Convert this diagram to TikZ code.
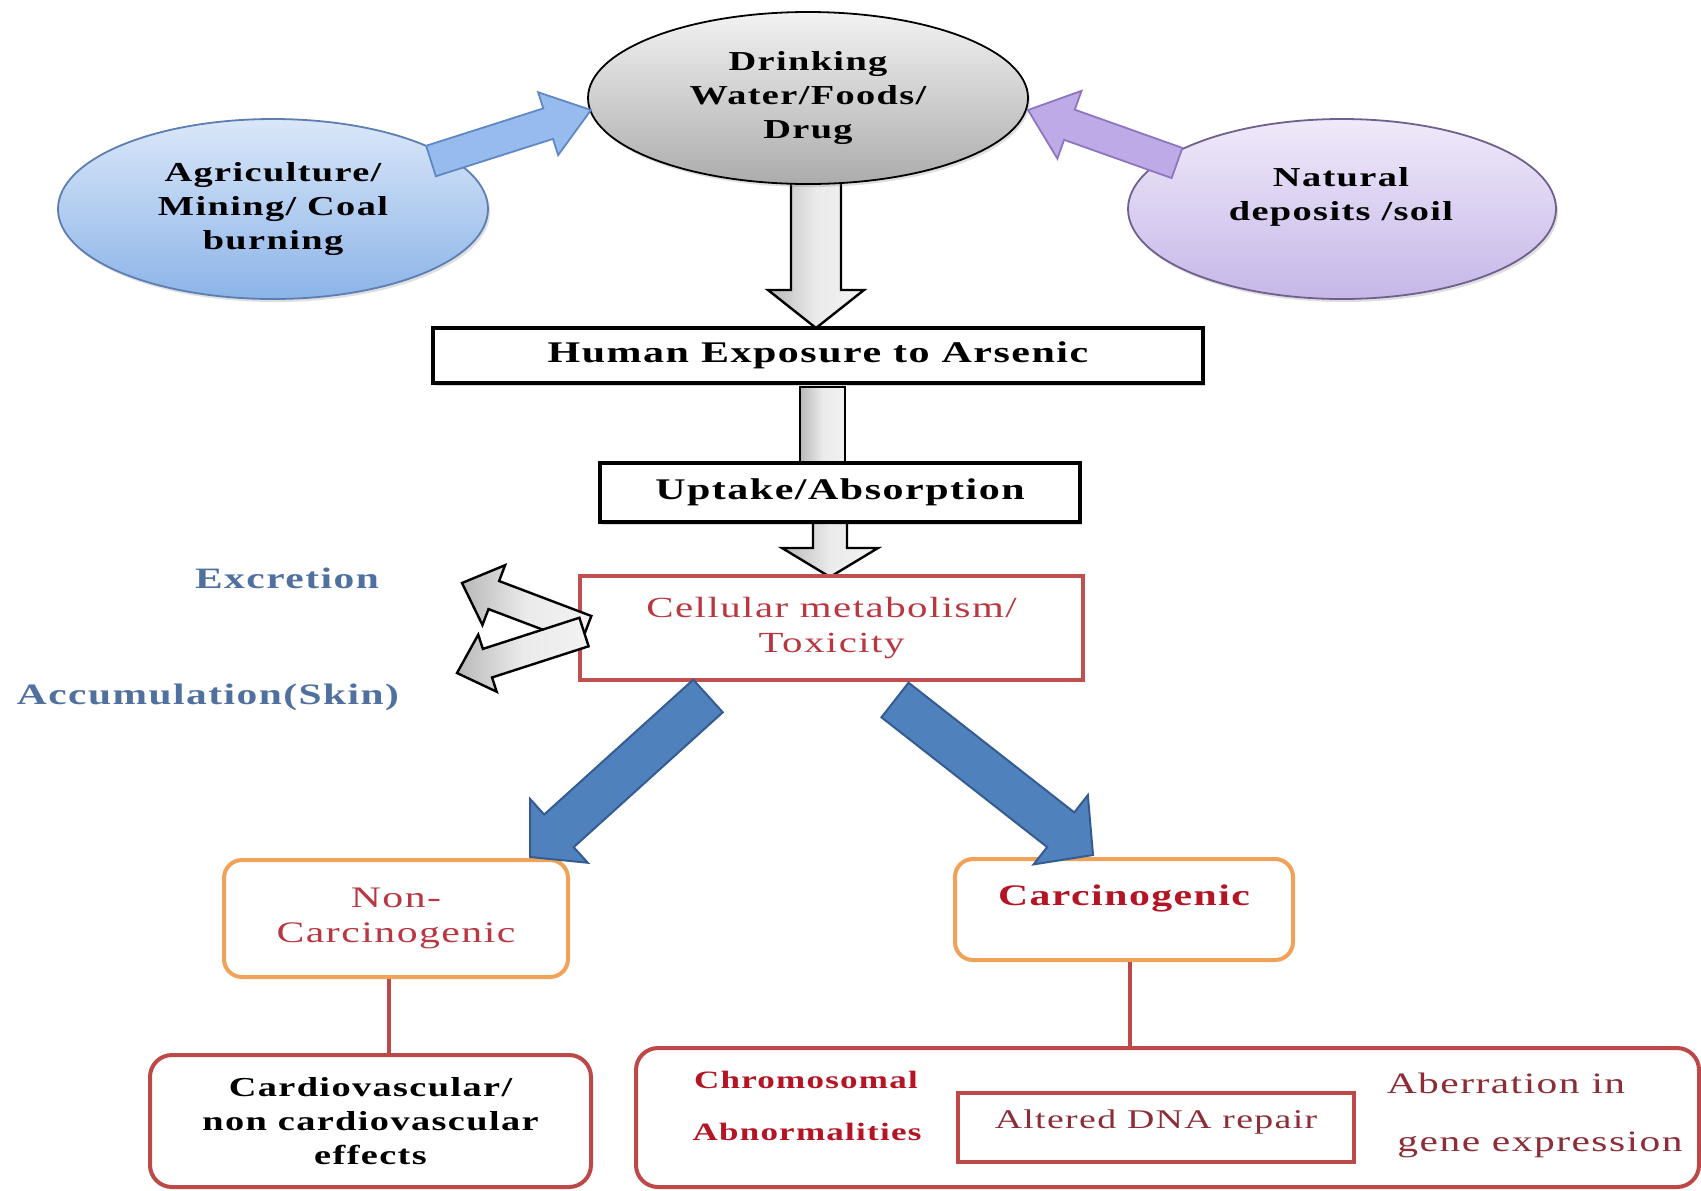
\documentclass[tikz,border=0pt]{standalone}
\usepackage{fontspec}
\setmainfont{Liberation Serif}[FakeStretch=1.4, LetterSpace=5]
\usetikzlibrary{calc,shapes.geometric,shadows}

\definecolor{agriTop}{RGB}{218,231,249}
\definecolor{agriBot}{RGB}{140,180,232}
\definecolor{agriBord}{RGB}{92,126,178}
\definecolor{natTop}{RGB}{240,233,250}
\definecolor{natBot}{RGB}{198,183,232}
\definecolor{natBord}{RGB}{112,96,142}
\definecolor{grTop}{RGB}{242,242,242}
\definecolor{grBot}{RGB}{172,172,172}
\definecolor{blArrFill}{RGB}{150,187,236}
\definecolor{blArrBord}{RGB}{96,136,198}
\definecolor{puArrFill}{RGB}{190,170,230}
\definecolor{puArrBord}{RGB}{140,118,192}
\definecolor{bigBlue}{RGB}{79,129,189}
\definecolor{bigBlueBord}{RGB}{52,92,145}
\definecolor{boxRed}{RGB}{192,80,77}
\definecolor{lineRed}{RGB}{188,72,72}
\definecolor{txtRed}{RGB}{185,55,65}
\definecolor{carcRed}{RGB}{180,20,35}
\definecolor{dnaRed}{RGB}{140,45,55}
\definecolor{orBord}{RGB}{240,162,88}
\definecolor{excBlue}{RGB}{80,112,160}

\newcommand\bfell{\bfseries\fontsize{13.7pt}{17pt}\selectfont}
\newcommand\bfbox{\bfseries\fontsize{15pt}{17pt}\selectfont}

% block arrow: style, from, to, shaft half width, head half width, head length
\newcommand\blockarrow[6]{%
  \coordinate (ba-c) at ($(#3)!#6!(#2)$);
  \path[#1] ($(#2)!#4!90:(#3)$) -- ($(ba-c)!#4!90:(#3)$) -- ($(ba-c)!#5!90:(#3)$)
    -- (#3) -- ($(ba-c)!#5!-90:(#3)$) -- ($(ba-c)!#4!-90:(#3)$)
    -- ($(#2)!#4!-90:(#3)$) -- cycle;}

\tikzset{
  ellbase/.style={ellipse, line width=0.9pt, inner sep=0pt, align=center, font=\bfell,
    drop shadow={opacity=0.25, shadow xshift=1pt, shadow yshift=-1.5pt}},
  blackbox/.style={draw=black, line width=2pt, fill=white, inner sep=0pt, font=\bfbox,
    drop shadow={opacity=0.3, shadow xshift=1pt, shadow yshift=-1.5pt}},
  redbox/.style={draw=boxRed, line width=1.8pt, fill=white, inner sep=0pt, align=center,
    text=txtRed, font=\fontsize{14.6pt}{17.5pt}\selectfont},
  orbox/.style={draw=orBord, line width=2pt, rounded corners=9pt, fill=white, inner sep=0pt, align=center},
  rbox/.style={draw=lineRed, line width=2pt, rounded corners=11pt, fill=white, inner sep=0pt, align=center},
  plain/.style={inner sep=0pt, align=center},
  grayarr/.style={draw=black, line width=1.2pt, left color=grBot!85, right color=grTop, middle color=white!92!black},
  bluearr/.style={draw=blArrBord, line width=0.9pt, fill=blArrFill},
  purparr/.style={draw=puArrBord, line width=0.9pt, fill=puArrFill},
  bigarr/.style={draw=bigBlueBord, line width=1pt, fill=bigBlue},
  conn/.style={draw=lineRed, line width=2pt}
}

\begin{document}
\begin{tikzpicture}[x=0.5pt,y=-0.5pt]
\fill[white] (0,0) rectangle (1701,1190);
\useasboundingbox (0,0) rectangle (1701,1190);

% --- arrow from drinking water down (drawn under the ellipse)
\coordinate (d1s) at (816,165);
\coordinate (d1e) at (816,328);
\blockarrow{grayarr}{d1s}{d1e}{12.5pt}{24pt}{19pt}

% --- ellipses
\node[ellbase, draw=black, top color=grTop, bottom color=grBot,
  minimum width=220pt, minimum height=86pt] (drink) at (808,98)
  {Drinking\\Water/Foods/\\Drug};
\node[ellbase, draw=agriBord, top color=agriTop, bottom color=agriBot,
  minimum width=215pt, minimum height=90pt] (agri) at (273,209)
  {Agriculture/\\Mining/ Coal\\burning};
\node[ellbase, draw=natBord, top color=natTop, bottom color=natBot,
  minimum width=214pt, minimum height=90pt] (nat) at (1342,209) {};
\node[plain, font=\bfell] (natt) at (1341,197) {Natural\\deposits /soil};

% --- side arrows into drinking ellipse
\coordinate (a1s) at (431,161);
\coordinate (a1e) at (591,110);
\blockarrow{bluearr}{a1s}{a1e}{8pt}{16.5pt}{22.5pt}
\coordinate (a2s) at (1177,163);
\coordinate (a2e) at (1028,110);
\blockarrow{purparr}{a2s}{a2e}{8pt}{18pt}{22pt}

% --- main boxes
\node[blackbox, minimum width=385pt, minimum height=27.5pt] (hum) at (818,355.5)
  {Human Exposure to Arsenic};
\path[grayarr] ($(hum.south)+(-18,2)$) rectangle ($(hum.south)+(27,108)$);
\node[blackbox, minimum width=240pt, minimum height=29.5pt] (up) at (840,492.5)
  {Uptake/Absorption};

\coordinate (u1s) at (830,523);
\coordinate (u1e) at (830,577);
\blockarrow{grayarr}{u1s}{u1e}{8.5pt}{24pt}{14.5pt}

\node[redbox, minimum width=251.5pt, minimum height=52pt] (cell) at (831.5,628)
  {Cellular metabolism/\\Toxicity};

% --- excretion / accumulation arrows
\coordinate (e1s) at (586,630);
\coordinate (e1e) at (462,583);
\blockarrow{grayarr}{e1s}{e1e}{7.5pt}{16pt}{17pt}
\coordinate (e2s) at (584,632);
\coordinate (e2e) at (457,673);
\blockarrow{grayarr}{e2s}{e2e}{7.5pt}{15pt}{16pt}

\node[plain, text=excBlue, font=\bfseries\fontsize{14.8pt}{17pt}\selectfont] (exc) at (287,578) {Excretion};
\node[plain, text=excBlue, font=\bfseries\fontsize{14.8pt}{17pt}\selectfont] (acc) at (208,697) {Accumulation(Skin)};

% --- outcome boxes
\node[orbox, minimum width=172pt, minimum height=58.5pt, text=txtRed,
  font=\fontsize{14.9pt}{17.5pt}\selectfont] (ncarc) at (396,918.5) {Non-\\Carcinogenic};
\node[orbox, minimum width=169pt, minimum height=50.5pt] (carc) at (1124,909.5) {};
\node[plain, text=carcRed, font=\bfseries\fontsize{14.9pt}{17pt}\selectfont] (carct) at (1124,898) {Carcinogenic};

% --- big blue arrows
\coordinate (b1s) at (708,696);
\coordinate (b1e) at (530,857);
\blockarrow{bigarr}{b1s}{b1e}{11pt}{21.5pt}{19.5pt}
\coordinate (b2s) at (895,700);
\coordinate (b2e) at (1093,855);
\blockarrow{bigarr}{b2s}{b2e}{11pt}{22pt}{20.5pt}

% --- bottom boxes
\node[rbox, minimum width=220.5pt, minimum height=66pt,
  font=\bfseries\fontsize{13.7pt}{17pt}\selectfont] (cardio) at (370.5,1121)
  {Cardiovascular/\\non cardiovascular\\effects};
\node[rbox, minimum width=531.5pt, minimum height=69.5pt] (big) at (1167.5,1117.5) {};
\node[draw=lineRed, line width=1.6pt, fill=white, inner sep=0pt,
  minimum width=198pt, minimum height=34.5pt] (dna) at (1156,1127.5) {};
\node[plain, text=dnaRed, font=\fontsize{13.5pt}{16pt}\selectfont] (dnat) at (1156,1122) {Altered DNA repair};
\node[plain, text=carcRed, font=\bfseries\fontsize{12.5pt}{16pt}\selectfont] (chrom) at (806,1080) {Chromosomal};
\node[plain, text=carcRed, font=\bfseries\fontsize{12.5pt}{16pt}\selectfont] (abn) at (807,1132) {Abnormalities};
\node[plain, text=dnaRed, font=\fontsize{14.8pt}{17pt}\selectfont] (aber) at (1506,1083) {Aberration in};
\node[plain, text=dnaRed, font=\fontsize{14.8pt}{17pt}\selectfont] (gene) at (1540,1145) {gene expression};

% --- connectors
\coordinate (l1) at (389,0);
\coordinate (l2) at (1130,0);
\draw[conn] (ncarc.south -| l1) -- (cardio.north -| l1);
\draw[conn] (carc.south -| l2) -- (big.north -| l2);
\end{tikzpicture}
\end{document}
